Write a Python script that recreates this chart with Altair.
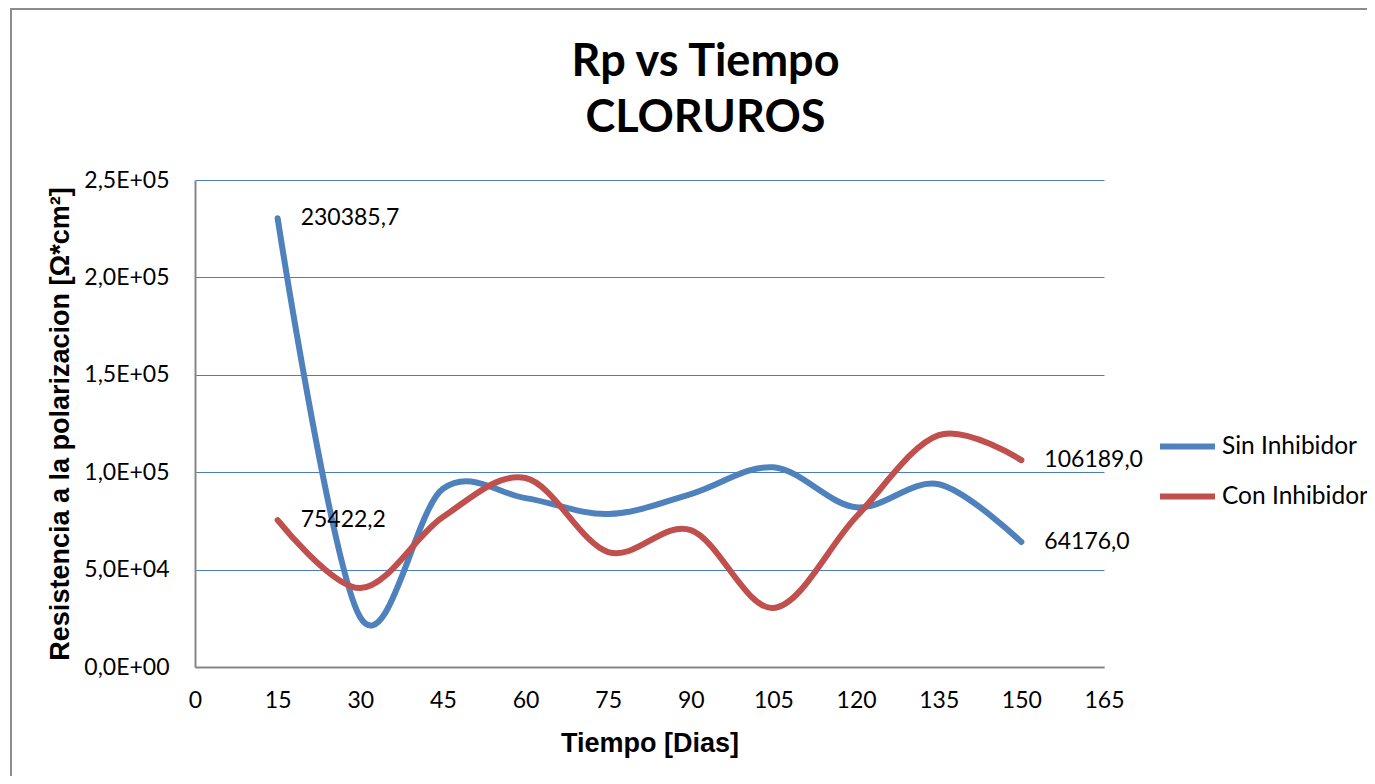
import altair as alt
import pandas as pd

days = [15, 30, 45, 60, 75, 90, 105, 120, 135, 150]
sin_inhibidor = [230385.7, 25500, 91500, 86700, 78500, 88800, 102500, 82000, 93800, 64176.0]
con_inhibidor = [75422.2, 40500, 77000, 97000, 59000, 70300, 30300, 77000, 119000, 106189.0]
series_names = ["Sin Inhibidor", "Con Inhibidor"]
series_colors = ["#4F81BD", "#C0504D"]

x_ticks = [0, 15, 30, 45, 60, 75, 90, 105, 120, 135, 150, 165]
y_ticks = [0, 50000, 100000, 150000, 200000, 250000]
y_tick_labels = ["0,0E+00", "5,0E+04", "1,0E+05", "1,5E+05", "2,0E+05", "2,5E+05"]

rows = []
for name, vals in zip(series_names, [sin_inhibidor, con_inhibidor]):
    for d, v in zip(days, vals):
        rows.append({"serie": name, "dia": d, "rp": v,
                     "etiqueta": f"{v:.1f}".replace(".", ",")})
df = pd.DataFrame(rows)

y_label_expr = " ".join(f"datum.value == {v} ? '{l}' :" for v, l in zip(y_ticks, y_tick_labels)) + " ''"

W, H = 909, 487
PL, PT = 187, 172

color_scale = alt.Scale(domain=series_names, range=series_colors)

x_enc = alt.X("dia:Q", scale=alt.Scale(domain=[0, 165], nice=False),
              axis=alt.Axis(values=x_ticks, title="Tiempo [Dias]", grid=False,
                            ticks=False, tickSize=0, labelPadding=22,
                            labelFont="Lato", labelFontSize=23, labelColor="#000",
                            titleFont="Liberation Sans", titleFontSize=27,
                            titleFontWeight="bold", titleColor="#000", titlePadding=18,
                            domainColor="#868686", domainWidth=2, labelFlush=False))
y_enc = alt.Y("rp:Q", scale=alt.Scale(domain=[0, 250000], nice=False),
              axis=alt.Axis(values=y_ticks, labelExpr=y_label_expr,
                            title="Resistencia a la polarizacion [Ω*cm²]",
                            grid=True, gridColor="#4A7EBB", gridWidth=1.2,
                            ticks=False, tickSize=0, labelPadding=26,
                            labelFont="Lato", labelFontSize=23, labelColor="#000",
                            titleFont="Liberation Sans", titleFontSize=27,
                            titleFontWeight="bold", titleColor="#000", titlePadding=9,
                            domainColor="#868686", domainWidth=2, labelFlush=False))

lines = alt.Chart(df).mark_line(interpolate="cardinal", strokeWidth=6, strokeCap="round").encode(
    x=x_enc, y=y_enc,
    color=alt.Color("serie:N", scale=color_scale, sort=series_names,
                    legend=alt.Legend(title=None, orient="none", legendX=962, legendY=236,
                                      symbolType="stroke", symbolSize=3025,
                                      symbolStrokeWidth=6, labelFont="Lato",
                                      labelFontSize=24.5, labelColor="#000",
                                      labelOffset=4, rowPadding=7, padding=0)),
    detail="serie:N",
)

labels = alt.Chart(df).transform_filter(
    (alt.datum.dia == days[0]) | (alt.datum.dia == days[-1])
).mark_text(align="left", baseline="middle", dx=23, font="Lato", fontSize=23, color="#000").encode(
    x="dia:Q", y="rp:Q", text="etiqueta:N"
)

anchor_row = alt.Chart(df).transform_filter(alt.datum.dia == days[0]).transform_filter(
    alt.datum.serie == series_names[0])
frame_top = anchor_row.mark_rule(stroke="#8C8C8C", strokeWidth=2).encode(
    x=alt.value(-185), x2=alt.value(1175), y=alt.value(-171))
frame_left = anchor_row.mark_rule(stroke="#8C8C8C", strokeWidth=2).encode(
    x=alt.value(-184), y=alt.value(-172), y2=alt.value(600))

chart = alt.layer(frame_top, frame_left, lines, labels).properties(
    width=W, height=H,
    background="white",
    title=alt.Title(["Rp vs Tiempo", "CLORUROS"], font="Lato", fontSize=45,
                    fontWeight="bold", color="#000", anchor="middle", dx=56,
                    offset=-134, lineHeight=56),
    autosize=alt.AutoSizeParams(type="none"),
    padding={"left": PL, "top": PT, "right": 263, "bottom": 109},
).configure_view(stroke=None)

chart.save("out.html", embed_options={"renderer": "svg", "actions": False})
